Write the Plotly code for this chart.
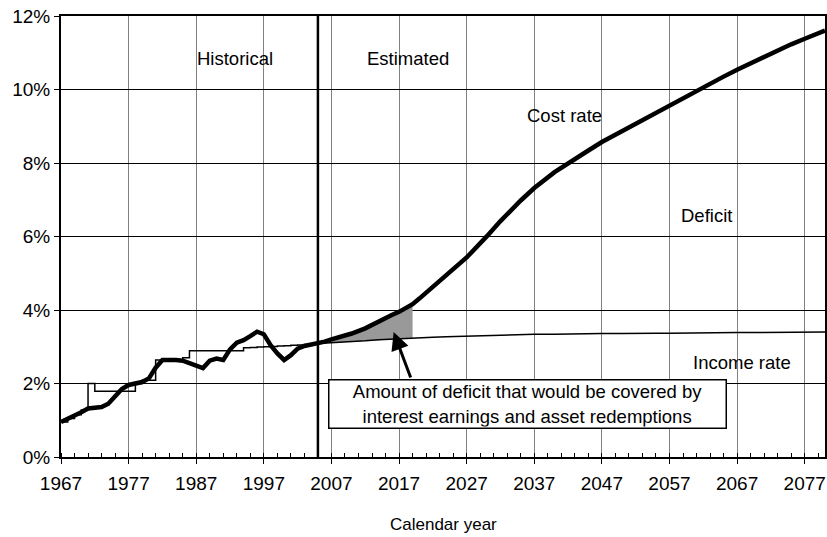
import plotly.graph_objects as go

# ---------------- data ----------------
hist_years = list(range(1967, 2006))
cost_hist = [0.95, 1.03, 1.12, 1.22, 1.32, 1.33, 1.36, 1.45, 1.65, 1.85,
             1.96, 2.01, 2.04, 2.14, 2.43, 2.64, 2.65, 2.64, 2.62, 2.55,
             2.50, 2.42, 2.62, 2.68, 2.64, 2.93, 3.11, 3.18, 3.29, 3.41,
             3.34, 3.04, 2.82, 2.64, 2.77, 2.95, 3.02, 3.05, 3.10]
income_hist = [0.95, 1.05, 1.15, 1.28, 2.00, 1.79, 1.79, 1.79, 1.79, 1.79,
               1.79, 2.00, 2.09, 2.09, 2.64, 2.64, 2.64, 2.64, 2.70, 2.89,
               2.89, 2.89, 2.89, 2.89, 2.89, 2.89, 2.89, 2.97, 2.98, 2.99,
               3.00, 3.01, 3.02, 3.03, 3.04, 3.05, 3.06, 3.07, 3.09]

est_years = [2005, 2006, 2007, 2008, 2009, 2010, 2012, 2014, 2016, 2017,
             2018, 2019, 2020, 2022, 2024, 2027, 2030, 2032, 2035, 2037,
             2040, 2042, 2045, 2047, 2050, 2052, 2055, 2057, 2060, 2062,
             2065, 2067, 2070, 2072, 2075, 2077, 2080]
cost_est = [3.10, 3.14, 3.20, 3.25, 3.30, 3.36, 3.50, 3.70, 3.87, 3.95,
            4.05, 4.16, 4.31, 4.63, 4.95, 5.43, 6.01, 6.42, 6.98, 7.32,
            7.75, 8.00, 8.34, 8.57, 8.87, 9.07, 9.36, 9.57, 9.88, 10.08,
            10.35, 10.54, 10.81, 10.98, 11.23, 11.38, 11.60]
income_est = [3.09, 3.10, 3.11, 3.12, 3.12, 3.13, 3.16, 3.19, 3.21, 3.21,
              3.22, 3.23, 3.24, 3.26, 3.27, 3.29, 3.31, 3.32, 3.33, 3.34,
              3.34, 3.35, 3.35, 3.36, 3.36, 3.37, 3.37, 3.37, 3.38, 3.38,
              3.38, 3.39, 3.39, 3.39, 3.40, 3.40, 3.40]

projection_start = 2005
asset_redemption_end = 2019

x_tick_vals = list(range(1967, 2081, 10))
x_tick_labels = [str(v) for v in x_tick_vals]
y_tick_vals = [0, 2, 4, 6, 8, 10, 12]
y_tick_labels = ["0%", "2%", "4%", "6%", "8%", "10%", "12%"]

FONT = "Liberation Sans, Arial, sans-serif"

# ---------------- figure ----------------
fig = go.Figure()

# shaded deficit region covered by trust fund assets
shade_x = [y for y in est_years if y <= asset_redemption_end]
n = len(shade_x)
fig.add_trace(go.Scatter(
    x=shade_x + shade_x[::-1],
    y=cost_est[:n] + income_est[:n][::-1],
    fill="toself", fillcolor="#999999", mode="lines",
    line=dict(width=0), hoverinfo="skip", showlegend=False))

# income rate
fig.add_trace(go.Scatter(x=hist_years, y=income_hist, mode="lines",
                         line=dict(color="black", width=1.5, shape="hv"),
                         showlegend=False))
fig.add_trace(go.Scatter(x=est_years, y=income_est, mode="lines",
                         line=dict(color="black", width=1.5),
                         showlegend=False))

# cost rate
cost_years = hist_years + est_years[1:]
cost_all = cost_hist + cost_est[1:]
fig.add_trace(go.Scatter(x=cost_years, y=cost_all, mode="lines",
                         line=dict(color="black", width=4.5),
                         showlegend=False))

# vertical separator between historical and estimated
fig.add_shape(type="line", x0=projection_start, x1=projection_start,
              y0=0, y1=1, xref="x", yref="paper",
              line=dict(color="black", width=2.5))

label_font = dict(family=FONT, size=18.5, color="black")
for txt, xx, yy in [("Historical", 1992.8, 10.84), ("Estimated", 2018.3, 10.84),
                    ("Cost rate", 2041.4, 9.3), ("Deficit", 2062.4, 6.58),
                    ("Income rate", 2067.7, 2.58)]:
    fig.add_annotation(x=xx, y=yy, text=txt, showarrow=False, font=label_font,
                       xanchor="center", yanchor="middle")

# arrow
fig.add_annotation(x=2016.2, y=3.40, ax=2018.8, ay=2.12,
                   xref="x", yref="y", axref="x", ayref="y",
                   text="", showarrow=True, arrowhead=2, arrowsize=1.2,
                   arrowwidth=3, arrowcolor="black")

# text box
fig.add_annotation(x=2036.0, y=1.45, xref="x", yref="y",
                   text="Amount of deficit that would be covered by<br>interest earnings and asset redemptions",
                   showarrow=False, font=dict(family=FONT, size=18.5, color="black"),
                   align="center", bgcolor="white", bordercolor="black",
                   borderwidth=1.5, width=394, height=45, borderpad=1)

# x axis title
fig.add_annotation(x=0.5, y=-0.152, xref="paper", yref="paper",
                   text="Calendar year", showarrow=False,
                   font=dict(family=FONT, size=17, color="black"),
                   xanchor="center", yanchor="middle")

fig.update_xaxes(range=[1967, 2080], tickvals=x_tick_vals, ticktext=x_tick_labels,
                 showgrid=True, gridcolor="#808080", gridwidth=1,
                 showline=True, linecolor="black", linewidth=2, mirror=True,
                 ticks="outside", ticklen=5, tickcolor="black",
                 ticklabelstandoff=3,
                 tickfont=dict(family=FONT, size=19, color="black"),
                 minor=dict(dtick=2, tick0=1967, ticks="inside", ticklen=4,
                            tickcolor="black", showgrid=False),
                 zeroline=False)
fig.update_yaxes(range=[0, 12], tickvals=y_tick_vals, ticktext=y_tick_labels,
                 showgrid=True, gridcolor="black", gridwidth=1,
                 showline=True, linecolor="black", linewidth=2, mirror=True,
                 ticks="outside", ticklen=5, tickcolor="black",
                 tickfont=dict(family=FONT, size=19, color="black"),
                 zeroline=False, automargin=False)

fig.update_layout(width=827, height=537,
                  margin=dict(l=61, r=2, t=16, b=80, autoexpand=False),
                  paper_bgcolor="white", plot_bgcolor="white",
                  font=dict(family=FONT, color="black"),
                  showlegend=False)

fig.write_html("out.html", config={"displayModeBar": False},
               post_script="document.body.style.margin='0';document.body.style.overflow='hidden';")
